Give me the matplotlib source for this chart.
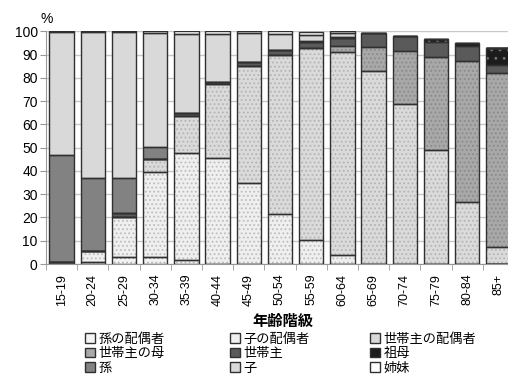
import numpy as np
import matplotlib
matplotlib.use('Agg')
import matplotlib.pyplot as plt
from matplotlib.patches import Patch

plt.rcParams['font.family'] = ['Liberation Sans', 'Noto Sans CJK JP']
plt.rcParams['hatch.linewidth'] = 0.8

# age groups
ages = ['15-19', '20-24', '25-29', '30-34', '35-39', '40-44', '45-49', '50-54',
        '55-59', '60-64', '65-69', '70-74', '75-79', '80-84', '85+']

# series, bottom to top (%)
mago_haigusha = [0, 1.0, 2.8, 3.1, 1.7, 0, 0, 0, 0, 0, 0, 0, 0, 0, 0]
ko_haigusha = [1.0, 4.5, 17.3, 36.6, 46.1, 45.5, 34.9, 21.4, 10.3, 3.9, 0, 0, 0, 0, 0]
nushi_haigusha = [0, 0, 0, 5.3, 15.7, 31.8, 50.3, 68.4, 82.6, 87.1, 83.1, 68.8, 49.0, 26.5, 7.4]
nushi_haha = [0, 0, 0, 0, 0, 0, 0, 0, 0, 2.7, 10.3, 22.9, 40.1, 60.7, 74.6]
nushi = [0, 0, 1.8, 0, 1.5, 1.0, 1.8, 2.2, 2.6, 3.5, 5.9, 6.1, 6.4, 6.5, 3.6]
sobo = [0, 0, 0, 0, 0, 0, 0, 0, 0, 0, 0, 0.3, 1.2, 1.1, 7.1]
mago = [45.8, 31.6, 15.2, 5.3, 0, 0, 0, 0, 0.5, 0.5, 0, 0, 0, 0, 0]
ko = [52.7, 62.4, 62.4, 48.9, 34.0, 20.6, 12.3, 6.9, 2.5, 1.5, 0, 0, 0, 0, 0]
shimai = [0.5, 0.5, 0.5, 0.8, 1.0, 1.1, 0.7, 1.1, 1.0, 0.8, 0, 0, 0, 0, 0]

series = [
    ('孫の配偶者', mago_haigusha, '#f4f4f4', '#b8b8b8', '....'),
    ('子の配偶者', ko_haigusha, '#efefef', '#bdbdbd', '....'),
    ('世帯主の配偶者', nushi_haigusha, '#dadada', '#b4b4b4', '....'),
    ('世帯主の母', nushi_haha, '#a8a8a8', '#8a8a8a', '....'),
    ('世帯主', nushi, '#5a5a5a', '#5a5a5a', None),
    ('祖母', sobo, '#1c1c1c', '#777777', '..'),
    ('孫', mago, '#828282', '#828282', None),
    ('子', ko, '#d9d9d9', '#d9d9d9', None),
    ('姉妹', shimai, '#ffffff', '#ffffff', None),
]

fig = plt.figure(figsize=(5.08, 3.78), dpi=100)
ax = fig.add_axes([46 / 508, 114 / 378, 468 / 508, 232.7 / 378])

x = np.arange(len(ages))
width = 0.78
bottom = np.zeros(len(ages))
handles = []
for name, vals, fc, hc, hatch in series:
    vals = np.array(vals, dtype=float)
    ax.bar(x, vals, width, bottom=bottom, color=fc, edgecolor=hc,
           hatch=hatch, linewidth=0, zorder=2)
    ax.bar(x, vals, width, bottom=bottom, fill=False, edgecolor='#303030',
           linewidth=1.0, zorder=3)
    bottom += vals
    handles.append(Patch(facecolor=fc, edgecolor='#303030', linewidth=1.0, label=name))

ax.set_ylim(0, 100)
ax.set_xlim(-0.5, len(ages) - 0.5)
ax.set_yticks(range(0, 101, 10))
ax.yaxis.grid(True, color='#c8c8c8', linewidth=1.0, zorder=0)
ax.set_axisbelow(True)

ax.set_xticks(x)
ax.set_xticklabels(ages, rotation=90, fontsize=9)
ax.set_xticks(np.arange(len(ages) + 1) - 0.5, minor=True)
ax.tick_params(axis='x', which='major', length=0, pad=7)
ax.tick_params(axis='x', which='minor', length=4, color='#999999')
ax.tick_params(axis='y', length=4, color='#999999', labelsize=10, pad=2)

for s in ['top', 'right']:
    ax.spines[s].set_visible(False)
ax.spines['left'].set_color('#999999')
ax.spines['bottom'].set_color('#999999')

fig.text(47 / 508, 1 - 19 / 378, '%', fontsize=10, ha='center', va='center')
fig.text(283 / 508, 1 - 322 / 378, '年齢階級', fontsize=11, fontweight='bold',
         ha='center', va='center')

# legend: three columns, filled row by row
col_x = [85, 230, 370]
for c in range(3):
    leg = fig.legend(handles=handles[c::3], loc='upper left',
                     bbox_to_anchor=(col_x[c] / 508, 1 - 333 / 378),
                     frameon=False, fontsize=9.5, handlelength=0.75, handleheight=0.75,
                     handletextpad=0.3, labelspacing=0.15, borderpad=0, borderaxespad=0)

fig.savefig('out.png', dpi=100)
